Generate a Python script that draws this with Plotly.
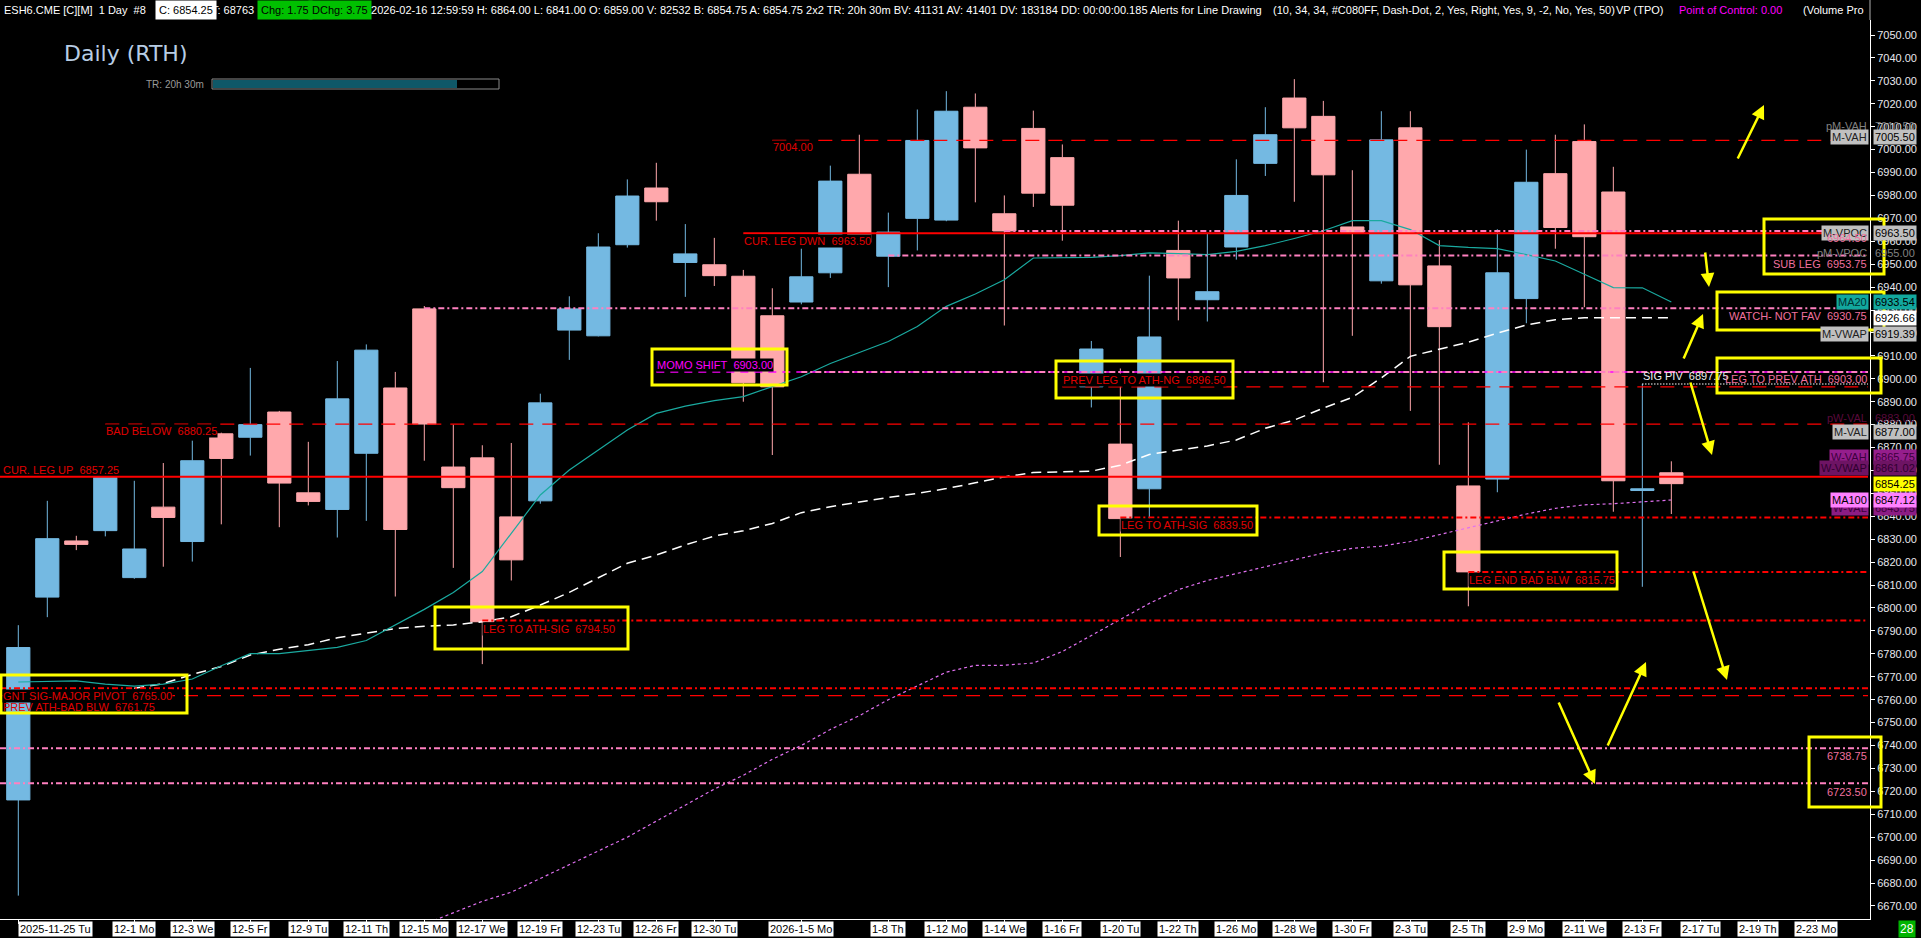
import plotly.graph_objects as go

# ---------------- data ----------------
dates = [
    "2025-11-25", "2025-11-26", "2025-11-27", "2025-11-28",
    "2025-12-01", "2025-12-02", "2025-12-03", "2025-12-04", "2025-12-05",
    "2025-12-08", "2025-12-09", "2025-12-10", "2025-12-11", "2025-12-12",
    "2025-12-15", "2025-12-16", "2025-12-17", "2025-12-18", "2025-12-19",
    "2025-12-22", "2025-12-23", "2025-12-24", "2025-12-26",
    "2025-12-29", "2025-12-30", "2025-12-31", "2026-01-02",
    "2026-01-05", "2026-01-06", "2026-01-07", "2026-01-08", "2026-01-09",
    "2026-01-12", "2026-01-13", "2026-01-14", "2026-01-15", "2026-01-16",
    "2026-01-19", "2026-01-20", "2026-01-21", "2026-01-22", "2026-01-23",
    "2026-01-26", "2026-01-27", "2026-01-28", "2026-01-29", "2026-01-30",
    "2026-02-02", "2026-02-03", "2026-02-04", "2026-02-05", "2026-02-06",
    "2026-02-09", "2026-02-10", "2026-02-11", "2026-02-12", "2026-02-13",
    "2026-02-16",
]
future_dates = ["2026-02-17", "2026-02-18", "2026-02-19", "2026-02-20",
                "2026-02-23", "2026-02-24", "2026-02-25"]

opens = [6716.25, 6804.75, 6829.25, 6833.75, 6813.25, 6844.00, 6829.00, 6876.00, 6874.50,
         6885.50, 6850.25, 6843.00, 6867.50, 6896.00, 6930.50, 6861.50, 6865.50, 6839.75,
         6846.75, 6921.25, 6918.75, 6958.50, 6983.25, 6950.75, 6949.75, 6944.75, 6927.50,
         6933.50, 6946.25, 6989.25, 6953.50, 6970.00, 6969.25, 7018.50, 6972.00, 7009.25,
         6996.50, 6896.50, 6871.50, 6852.00, 6956.00, 6934.50, 6957.50, 6994.00, 7022.50,
         7014.50, 6966.25, 6942.75, 7009.50, 6949.25, 6853.25, 6856.25, 6935.00, 6989.50,
         7003.50, 6981.50, 6851.25, 6859.00]
highs = [6792.50, 6846.75, 6831.50, 6857.50, 6855.50, 6863.25, 6873.00, 6876.50, 6904.75,
         6886.00, 6872.50, 6907.75, 6915.00, 6903.00, 6931.75, 6880.00, 6871.00, 6872.00,
         6893.50, 6936.00, 6963.50, 6987.00, 6994.25, 6967.50, 6961.50, 6947.50, 6939.50,
         6956.75, 6993.00, 7006.50, 6972.50, 7017.50, 7025.50, 7024.50, 6980.00, 7017.00,
         7002.25, 6916.50, 6904.50, 6945.00, 6969.00, 6963.25, 6995.75, 7018.50, 7030.75,
         7021.25, 6991.00, 7016.75, 7016.75, 6960.50, 6881.00, 6965.25, 7000.00, 7006.50,
         7011.00, 6992.50, 6897.75, 6864.00]
lows = [6674.50, 6796.00, 6825.25, 6831.25, 6812.75, 6818.00, 6820.25, 6836.50, 6866.50,
        6835.25, 6844.75, 6830.75, 6838.00, 6805.00, 6864.25, 6817.50, 6775.50, 6812.00,
        6845.50, 6908.25, 6918.50, 6957.25, 6969.00, 6935.75, 6940.50, 6890.00, 6866.75,
        6932.50, 6944.00, 6958.50, 6940.00, 6956.00, 6968.75, 6977.00, 6923.25, 6975.00,
        6960.25, 6887.50, 6822.25, 6839.00, 6925.50, 6925.00, 6952.00, 6988.50, 6977.25,
        6898.50, 6918.75, 6941.50, 6886.00, 6862.50, 6800.75, 6850.50, 6924.25, 6956.75,
        6931.25, 6842.00, 6809.25, 6841.00]
closes = [6782.75, 6830.25, 6827.75, 6857.00, 6825.75, 6839.50, 6864.25, 6865.25, 6880.00,
          6854.50, 6846.50, 6891.25, 6912.50, 6834.25, 6880.25, 6852.50, 6794.00, 6821.00,
          6889.50, 6930.50, 6957.50, 6979.75, 6977.25, 6954.50, 6945.00, 6898.25, 6896.50,
          6944.50, 6986.25, 6959.50, 6964.00, 7004.00, 7016.75, 7000.75, 6964.50, 6981.00,
          6975.75, 6913.00, 6839.00, 6918.25, 6944.00, 6938.00, 6980.00, 7006.50, 7009.50,
          6989.00, 6963.75, 7004.25, 6941.00, 6922.75, 6815.75, 6946.25, 6985.75, 6966.00,
          6962.00, 6855.50, 6852.00, 6854.25]

ma20 = [6767.7, 6767.9, 6768.2, 6766.8, 6765.9, 6766.8, 6769.0, 6774.8, 6780.1, 6780.1,
        6781.5, 6782.8, 6785.8, 6792.5, 6799.4, 6806.8, 6815.9, 6832.6, 6849.3, 6860.2,
        6868.9, 6877.7, 6884.9, 6888.1, 6890.5, 6892.2, 6896.6, 6900.9, 6906.7, 6911.5,
        6916.3, 6922.8, 6931.6, 6937.0, 6943.2, 6952.7, 6953.0, 6953.0, 6953.7, 6954.9,
        6954.6, 6954.2, 6955.6, 6958.1, 6961.2, 6964.6, 6969.0, 6969.0, 6965.1, 6958.1,
        6957.3, 6956.8, 6954.2, 6951.4, 6945.6, 6939.8, 6939.7, 6933.54]
ma50 = [None, None, None, None,
        6765.0, 6767.0, 6771.0, 6774.5, 6779.5, 6782.0, 6784.0, 6787.0, 6789.0, 6791.0,
        6792.0, 6792.6, 6794.0, 6796.2, 6801.3, 6806.8, 6813.2, 6819.5, 6823.1, 6827.5,
        6831.4, 6833.7, 6836.9, 6841.6, 6844.2, 6846.3, 6848.2, 6850.0, 6852.1, 6854.6,
        6857.2, 6859.1, 6859.4, 6859.7, 6862.3, 6867.0, 6868.9, 6870.7, 6873.3, 6878.4,
        6882.0, 6887.2, 6891.9, 6900.4, 6909.8, 6912.9, 6916.0, 6919.9, 6923.5, 6925.8,
        6926.6, 6926.6, 6926.6, 6926.66]
ma100 = [None] * 13 + [
        6657.0, 6662.0, 6667.0, 6672.0, 6676.0, 6682.0, 6688.0, 6694.0, 6700.0, 6707.0,
        6714.0, 6721.0, 6727.0, 6734.0, 6740.0, 6747.0, 6753.0, 6760.0, 6766.0, 6772.0,
        6775.0, 6775.0, 6776.0, 6781.0, 6788.0, 6795.0, 6802.0, 6808.0, 6812.0, 6815.0,
        6818.0, 6821.0, 6824.0, 6826.0, 6827.0, 6829.0, 6832.0, 6835.0, 6838.0, 6841.0,
        6843.5, 6845.0, 6845.5, 6846.2, 6847.12]

tick_dates = ["2025-11-25", "2025-12-01", "2025-12-03", "2025-12-05", "2025-12-09",
              "2025-12-11", "2025-12-15", "2025-12-17", "2025-12-19", "2025-12-23",
              "2025-12-26", "2025-12-30", "2026-01-05", "2026-01-08", "2026-01-12",
              "2026-01-14", "2026-01-16", "2026-01-20", "2026-01-22", "2026-01-26",
              "2026-01-28", "2026-01-30", "2026-02-03", "2026-02-05", "2026-02-09",
              "2026-02-11", "2026-02-13", "2026-02-17", "2026-02-19", "2026-02-23"]
tick_texts = ["2025-11-25 Tu", "12-1 Mo", "12-3 We", "12-5 Fr", "12-9 Tu", "12-11 Th",
              "12-15 Mo", "12-17 We", "12-19 Fr", "12-23 Tu", "12-26 Fr", "12-30 Tu",
              "2026-1-5 Mo", "1-8 Th", "1-12 Mo", "1-14 We", "1-16 Fr", "1-20 Tu",
              "1-22 Th", "1-26 Mo", "1-28 We", "1-30 Fr", "2-3 Tu", "2-5 Th", "2-9 Mo",
              "2-11 We", "2-13 Fr", "2-17 Tu", "2-19 Th", "2-23 Mo"]

# drawn price levels
level_prices = [7004.00, 6964.50, 6963.50, 6953.75, 6930.75, 6903.00, 6903.00, 6897.75,
                6896.50, 6880.25, 6857.25, 6839.50, 6815.75, 6794.50, 6765.00, 6761.75,
                6738.75, 6723.50]
level_names = ["", "", "CUR. LEG DWN", "SUB LEG", "WATCH- NOT FAV", "MOMO SHIFT",
               "LEG TO PREV ATH", "SIG PIV", "PREV LEG TO ATH-NG", "BAD BELOW",
               "CUR. LEG UP", "LEG TO ATH-SIG", "LEG END BAD BLW", "LEG TO ATH-SIG",
               "GNT SIG-MAJOR PIVOT", "PREV ATH-BAD BLW", "", ""]
level_starts = ["2026-01-02", "2026-01-14", "2025-12-31", "2026-01-08", "2025-12-15",
                "2025-12-26", "2026-01-05", "2026-02-13", "2026-01-16", "2025-11-28",
                None, "2026-01-20", "2026-02-05", "2025-12-17", None, None, None, None]

# right-side study tags
tag_names = ["pM-VAH", "M-VAH", "M-VPOC", "pM-VPOC", "MA20", "", "M-VWAP", "pW-VAL",
             "M-VAL", "W-VAH", "W-VWAP", "", "W-VAL", "MA100"]
tag_prices = [7010.50, 7005.50, 6963.50, 6955.00, 6933.54, 6926.66, 6919.39, 6883.00,
              6877.00, 6865.75, 6861.02, 6854.25, 6843.75, 6847.12]

header_texts = ["ESH6.CME [C][M]  1 Day  #8", "C: 6854.25", "T: 68763", "Chg: 1.75",
                "DChg: 3.75",
                "2026-02-16 12:59:59 H: 6864.00 L: 6841.00 O: 6859.00 V: 82532 "
                "B: 6854.75 A: 6854.75 2x2 TR: 20h 30m BV: 41131 AV: 41401 "
                "DV: 183184 DD: 00:00:00.185 Alerts for Line Drawing",
                "(10, 34, 34, #C080FF, Dash-Dot, 2, Yes, Right, Yes, 9, -2, No, Yes, 50)",
                "VP (TPO)", "Point of Control: 0.00", "(Volume Pro"]

# ---------------- layout geometry / styles ----------------
W, H = 1921, 938
PL, PR, PT, PB = 0, 1870, 20, 919
Y_LO, Y_HI = 6664.3, 7056.55
X_LO, X_HI = -0.631, 63.85
FONT = "Liberation Sans, Arial, sans-serif"

BLUE = "#74B9E2"
PINK = "#FFA8AC"
RED = "#FF0000"
RED_TXT = "#E00000"
PINK_LINE = "#FF80C0"
PINK_TXT = "#F0709E"
YELLOW = "#FFFF00"


def pxx(x):
    return (x - PL) / (PR - PL)


def pyy(y):
    return (PB - y) / (PB - PT)


def xi(px):
    return X_LO + (px - PL) / (PR - PL) * (X_HI - X_LO)


fig = go.Figure()

fig.add_trace(go.Candlestick(
    x=dates, open=opens, high=highs, low=lows, close=closes,
    increasing=dict(line=dict(color=BLUE, width=1), fillcolor=BLUE),
    decreasing=dict(line=dict(color=PINK, width=1), fillcolor=PINK),
    whiskerwidth=0, hoverinfo="skip", showlegend=False))

fig.add_trace(go.Scatter(x=dates, y=ma100, mode="lines", hoverinfo="skip",
                         line=dict(color="#E070F0", width=1.2, dash="3px,3px")))
fig.add_trace(go.Scatter(x=dates, y=ma50, mode="lines", hoverinfo="skip",
                         line=dict(color="#FFFFFF", width=1.5, dash="10px,6px")))
fig.add_trace(go.Scatter(x=dates, y=ma20, mode="lines", hoverinfo="skip",
                         line=dict(color="#1AAAA0", width=1.2)))

# level styles: (line color, dash, width, label side, yshift, text color, bg)
DD = "6px,3px,2px,3px"
RD = "14px,9px"
level_styles = [
    (RED, RD, 1.2, "L", -7, RED_TXT, "black"),
    (PINK_LINE, DD, 2, "R", -7, PINK_TXT, None),
    (RED, "solid", 2, "L", -8, RED_TXT, "black"),
    (PINK_LINE, DD, 2, "R", -8, PINK_TXT, None),
    (PINK_LINE, DD, 2, "R", -8, PINK_TXT, None),
    ("#FF00FF", "8px,6px", 1.5, "L", 7, "#FF00FF", "black"),
    (PINK_LINE, DD, 2, "R", -7, PINK_TXT, None),
    ("#FFFFFF", "1px,2px", 1.5, "L", 8, "#F0F0F0", None),
    (RED, RD, 1.2, "L", 7, RED_TXT, "black"),
    (RED, RD, 1.2, "L", -7, RED_TXT, "black"),
    (RED, "solid", 2, "L", 7, RED_TXT, None),
    (RED, DD, 2, "L", -8, RED_TXT, "black"),
    (RED, DD, 2, "L", -8, RED_TXT, "black"),
    (RED, DD, 2, "L", -8, RED_TXT, "black"),
    (RED, DD, 2, "L", -8, RED_TXT, "black"),
    (RED, RD, 1.2, "L", -11, RED_TXT, None),
    (PINK_LINE, DD, 2, "R", -8, PINK_TXT, None),
    (PINK_LINE, DD, 2, "R", -9, PINK_TXT, None),
]

shapes = []
annotations = []
all_cats = dates + future_dates
x_right = xi(1868)

for price, name, start, st in zip(level_prices, level_names, level_starts, level_styles):
    col, dash, wid, side, ysh, tcol, bg = st
    x0 = all_cats.index(start) if start else X_LO
    shapes.append(dict(type="line", xref="x", yref="y", x0=x0, x1=x_right,
                       y0=price, y1=price, layer="above",
                       line=dict(color=col, width=wid, dash=dash)))
    if side == "R":
        continue
    txt = (name + "\u00a0\u00a0" if name else "") + f"{price:.2f}"
    if start:
        ann = dict(xref="x", x=start, xanchor="left")
    else:
        ann = dict(xref="paper", x=pxx(2), xanchor="left")
    ann.update(yref="y", y=price, yanchor="middle", yshift=ysh, text=txt,
               showarrow=False, borderpad=0,
               font=dict(family=FONT, size=11, color=tcol))
    if bg:
        ann["bgcolor"] = bg
    annotations.append(ann)

# yellow rectangles (pixel boxes)
rects = [(1, 675, 187, 713), (435, 607, 628, 649), (652, 349, 787, 385),
         (1056, 361, 1233, 398), (1099, 506, 1257, 535), (1444, 552, 1617, 589),
         (1764, 219, 1884, 274), (1717, 292, 1884, 330), (1717, 358, 1881, 393),
         (1809, 737, 1881, 807)]
for (a, b, c, d) in rects:
    shapes.append(dict(type="rect", xref="paper", yref="paper",
                       x0=pxx(a), x1=pxx(c), y0=pyy(d), y1=pyy(b),
                       line=dict(color=YELLOW, width=3), layer="above"))

# yellow arrows: (head x, head y, tail x, tail y) in pixels
arrows = [(1764, 105, 1737, 160), (1709, 287, 1705, 251), (1703, 314, 1683, 360),
          (1712, 455, 1690, 381), (1727, 680, 1693, 570), (1646, 662, 1607, 747),
          (1595, 784, 1558, 701)]
for (hx, hy, tx, ty) in arrows:
    annotations.append(dict(xref="paper", yref="paper", x=pxx(hx), y=pyy(hy),
                            ax=tx - hx, ay=ty - hy, text="", showarrow=True,
                            arrowhead=2, arrowsize=1.1, arrowwidth=2.5,
                            arrowcolor=YELLOW, standoff=0))

# right side tags
tag_styles = [
    (None, "#808080", None, "#808080"),
    ("#C0C0C0", "#000000", "#C0C0C0", "#202020"),
    ("#C0C0C0", "#000000", "#C0C0C0", "#202020"),
    (None, "#808080", None, "#808080"),
    ("#12A89E", "#000000", "#12A89E", "#003030"),
    ("#FFFFFF", "#000000", None, None),
    ("#C0C0C0", "#000000", "#C0C0C0", "#202020"),
    (None, "#5A0A3C", None, "#5A0A3C"),
    ("#C0C0C0", "#000000", "#C0C0C0", "#202020"),
    ("#951E8C", "#3C003C", "#951E8C", "#3C003C"),
    ("#6E1464", "#300030", "#6E1464", "#300030"),
    ("#FFFF00", "#000000", None, None),
    ("#8C1C84", "#3C003C", "#8C1C84", "#3C003C"),
    ("#FF80FF", "#000000", "#FF80FF", "#000000"),
]
for name, price, st in zip(tag_names, tag_prices, tag_styles):
    vbg, vfg, nbg, nfg = st
    a = dict(xref="paper", yref="y", x=pxx(1873), y=price, xanchor="left",
             yanchor="middle", text=f"{price:.2f}", showarrow=False, borderpad=1,
             font=dict(family=FONT, size=11, color=vfg))
    if vbg:
        a["bgcolor"] = vbg
    annotations.append(a)
    if name:
        b = dict(xref="paper", yref="y", x=pxx(1869), y=price, xanchor="right",
                 yanchor="middle", text=name, showarrow=False, borderpad=1,
                 font=dict(family=FONT, size=11, color=nfg))
        if nbg:
            b["bgcolor"] = nbg
        annotations.append(b)

# pink right-side level labels, drawn over the tags
for price, name, st in zip(level_prices, level_names, level_styles):
    if st[3] == "R":
        txt = (name + "\u00a0\u00a0" if name else "") + f"{price:.2f}"
        annotations.append(dict(xref="paper", x=pxx(1868), xanchor="right", yref="y",
                                y=price, yanchor="middle", yshift=st[4], text=txt,
                                showarrow=False, borderpad=0,
                                font=dict(family=FONT, size=11, color=st[5])))

# x-axis labels (white boxes)
for i, (d, t) in enumerate(zip(tick_dates, tick_texts)):
    annotations.append(dict(xref="x", yref="paper", x=d, y=pyy(929),
                            xanchor="left" if i == 0 else "center", yanchor="middle",
                            text=t, showarrow=False, bgcolor="#FFFFFF", borderpad=1,
                            font=dict(family=FONT, size=11, color="#000000")))

# header
header_pos = [3, 155, 211, 257, 308, 370, 1272, 1615, 1678, 1802]
header_size = [11, 11, 11, 11, 11, 11.05, 11, 11, 11, 11]
header_style = [("#FFFFFF", None), ("#000000", "#FFFFFF"), ("#FFFFFF", None),
                ("#000000", "#00C000"), ("#000000", "#00C000"), ("#FFFFFF", None),
                ("#FFFFFF", None),
                ("#FFFFFF", None), ("#FF00FF", None), ("#FFFFFF", None)]
for x, t, fs, (fg, bg) in zip(header_pos, header_texts, header_size, header_style):
    a = dict(xref="paper", yref="paper", x=pxx(x), y=pyy(10), xanchor="left",
             yanchor="middle", text=t, showarrow=False,
             borderpad=3 if bg else 0, font=dict(family=FONT, size=fs, color=fg))
    if bg:
        a["bgcolor"] = bg
    annotations.append(a)

# title & TR bar
annotations.append(dict(xref="paper", yref="paper", x=pxx(62), y=pyy(54),
                        xanchor="left", yanchor="middle", text="Daily (RTH)",
                        showarrow=False,
                        font=dict(family="DejaVu Sans, sans-serif", size=22,
                                  color="#B8CDE4")))
annotations.append(dict(xref="paper", yref="paper", x=pxx(206), y=pyy(84),
                        xanchor="right", yanchor="middle", text="TR: 20h 30m",
                        showarrow=False,
                        font=dict(family=FONT, size=10, color="#9A9A9A")))
shapes.append(dict(type="rect", xref="paper", yref="paper", x0=pxx(213), x1=pxx(457),
                   y0=pyy(88), y1=pyy(80), line=dict(width=0), fillcolor="#0F5868",
                   layer="above"))
shapes.append(dict(type="rect", xref="paper", yref="paper", x0=pxx(212), x1=pxx(499),
                   y0=pyy(89), y1=pyy(79), line=dict(color="#8A8A8A", width=1),
                   layer="above"))
# header right separator
shapes.append(dict(type="line", xref="paper", yref="paper", x0=1, x1=1,
                   y0=1, y1=pyy(0), line=dict(color="#B0B0B0", width=1)))
# bottom-right counter
annotations.append(dict(xref="paper", yref="paper", x=pxx(1907), y=pyy(929),
                        xanchor="center", yanchor="middle", text="28",
                        showarrow=False, bgcolor="#00B400", borderpad=1,
                        font=dict(family=FONT, size=12, color="#FFFFFF")))

fig.update_layout(
    width=W, height=H,
    margin=dict(l=PL, r=W - PR, t=PT, b=H - PB, pad=0),
    paper_bgcolor="#000000", plot_bgcolor="#000000",
    showlegend=False, hovermode=False,
    boxgap=0.2, boxgroupgap=0,
    font=dict(family=FONT, size=11, color="#FFFFFF"),
    shapes=shapes, annotations=annotations,
    xaxis=dict(type="category", categoryorder="array", categoryarray=all_cats,
               range=[X_LO, X_HI], rangeslider=dict(visible=False),
               showgrid=False, zeroline=False, showline=True, linecolor="#FFFFFF",
               linewidth=1, ticks="outside", ticklen=4, tickcolor="#FFFFFF",
               tickvals=tick_dates, showticklabels=False),
    yaxis=dict(side="right", range=[Y_LO, Y_HI], tickmode="linear", tick0=6670,
               dtick=10, tickformat=".2f", showgrid=False, zeroline=False,
               showline=True, linecolor="#FFFFFF", linewidth=1, ticks="outside",
               ticklen=4, tickcolor="#FFFFFF",
               tickfont=dict(family=FONT, size=11, color="#E8E8EE")),
)

fig.write_html("out.html", config={"displayModeBar": False},
               post_script="document.body.style.margin='0px';")
